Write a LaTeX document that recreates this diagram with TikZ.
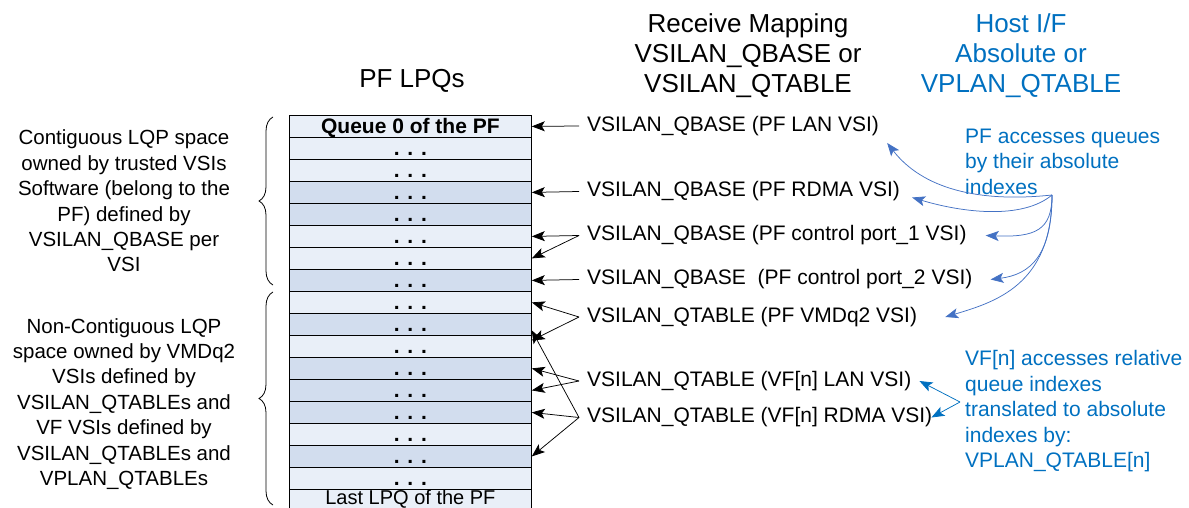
\documentclass[tikz,border=0pt]{standalone}
\usepackage{fontspec}
\setmainfont{Liberation Sans}
\usepackage{tikz}
\usetikzlibrary{calc,arrows.meta,positioning,decorations.pathreplacing}
\definecolor{lpqLight}{RGB}{233,239,248}
\definecolor{lpqDark}{RGB}{210,221,238}
\definecolor{hostBlue}{RGB}{0,112,192}
\definecolor{accessBlue}{RGB}{68,114,196}
\newcommand{\bigtxt}{\fontsize{26}{30}\selectfont}
\newcommand{\midtxt}{\fontsize{21}{25.5}\selectfont}
\newcommand{\sidetxt}{\fontsize{20.5}{25.4}\selectfont}

\begin{document}
\begin{tikzpicture}[x=1pt,y=-1pt,
    lpqrow/.style={draw=black, line width=0.8pt, anchor=north west, inner sep=0pt,
        minimum width=242pt, minimum height=22pt, text height=15pt, text depth=0pt,
        font=\midtxt\bfseries},
    maplabel/.style={anchor=west, inner xsep=8pt, inner ysep=2pt, font=\midtxt},
    maparrow/.style={-{Stealth[length=13pt,width=10pt,inset=3pt]}, line width=0.75pt},
    pfcurve/.style={accessBlue, line width=0.75pt, -{Stealth[length=13pt,width=10pt,inset=3pt]}},
    vfline/.style={hostBlue, line width=0.75pt, -{Stealth[length=13pt,width=10pt,inset=3pt]}},
    bluenote/.style={anchor=north west, align=left, inner sep=0pt, text=hostBlue, font=\midtxt},
    sidenote/.style={align=center, font=\sidetxt},
    sidebrace/.style={decorate, decoration={brace, amplitude=14pt}, line width=0.8pt}
]
    \useasboundingbox (0,0) rectangle (1189,508);

    \node[font=\bigtxt, anchor=base] (lpqtitle) at (412,88) {PF LPQs};
    \node[font=\bigtxt, align=center, anchor=north, inner sep=0pt] (maptitle) at (748,13)
        {Receive Mapping\\VSILAN\_QBASE or\\VSILAN\_QTABLE};
    \node[font=\bigtxt, align=center, anchor=north, inner sep=0pt, text=hostBlue] (hosttitle) at (1021,13)
        {Host I/F\\Absolute or\\VPLAN\_QTABLE};

    \node[lpqrow, fill=lpqLight] (r0) at (289,115) {Queue 0 of the PF};
    \foreach \i/\shade in {1/lpqLight,2/lpqLight,3/lpqDark,4/lpqDark,5/lpqLight,6/lpqLight,
                           7/lpqDark,8/lpqLight,9/lpqDark,10/lpqLight,11/lpqDark,12/lpqDark,
                           13/lpqDark,14/lpqLight,15/lpqDark,16/lpqLight}
        \node[lpqrow, fill=\shade] (r\i) at (289,{115+22*\i}) {. . .};
    \node[lpqrow, fill=lpqLight, text height=13pt, text depth=5pt, font=\fontsize{20}{24}\selectfont]
        (r17) at (289,{115+22*17}) {Last LPQ of the PF};

    \node[sidenote] (pfside) at (124,201) {Contiguous LQP space\\owned by trusted VSIs\\Software (belong to the\\PF) defined by\\VSILAN\_QBASE per\\VSI};
    \node[sidenote] (vfside) at (124,404) {Non-Contiguous LQP\\space owned by VMDq2\\VSIs defined by\\VSILAN\_QTABLEs and\\VF VSIs defined by\\VSILAN\_QTABLEs and\\VPLAN\_QTABLEs};
    \draw[sidebrace] (273,285) -- (273,117);
    \draw[sidebrace] (273,505) -- (273,292);

    \node[maplabel] (m1) at (579,126) {VSILAN\_QBASE (PF LAN VSI)};
    \node[maplabel] (m2) at (579,191.5) {VSILAN\_QBASE (PF RDMA VSI)};
    \node[maplabel] (m3) at (579,235.5) {VSILAN\_QBASE (PF control port\_1 VSI)};
    \node[maplabel] (m4) at (579,279.5) {VSILAN\_QBASE~ (PF control port\_2 VSI)};
    \node[maplabel] (m5) at (579,317) {VSILAN\_QTABLE (PF VMDq2 VSI)};
    \node[maplabel] (m6) at (579,381) {VSILAN\_QTABLE (VF[n] LAN VSI)};
    \node[maplabel] (m7) at (579,417.5) {VSILAN\_QTABLE (VF[n] RDMA VSI)};

    \draw[maparrow] (m1.west) -- (r0.east);
    \draw[maparrow] (m2.west) -- (r3.east);
    \draw[maparrow] (m3.west) -- (r5.east);
    \draw[maparrow] (m3.west) -- (r6.east);
    \draw[maparrow] (m4.west) -- (r7.east);
    \draw[maparrow] (m5.west) -- (r8.east);
    \draw[maparrow] (m5.west) -- ([yshift=6pt]r10.east);
    \draw[maparrow] (m6.west) -- (r11.east);
    \draw[maparrow] (m6.west) -- (r12.east);
    \draw[maparrow] (m7.west) -- ([yshift=-6pt]r9.east);
    \draw[maparrow] (m7.west) -- (r13.east);
    \draw[maparrow] (m7.west) -- (r15.east);

    \node[bluenote] (pfnote) at (965,128.5) {PF accesses queues\\by their absolute\\indexes};
    \node[bluenote] (vfnote) at (965,350.5) {VF[n] accesses relative\\queue indexes\\translated to absolute\\indexes by:\\VPLAN\_QTABLE[n]};
    \coordinate (pfhub) at (1052,195);
    \coordinate (vfhub) at (960,402);

    \draw[pfcurve] (pfhub) .. controls +(-75,8) and +(35,45) .. ([yshift=-5pt]m1.south east);
    \draw[pfcurve] (pfhub) .. controls +(-30,25) and +(50,15) .. ([xshift=4pt,yshift=-6pt]m2.east);
    \draw[pfcurve] (pfhub) .. controls +(0,35) and +(50,2) .. ([xshift=11pt]m3.east);
    \draw[pfcurve] (pfhub) .. controls +(0,60) and +(40,-5) .. ([xshift=10pt]m4.east);
    \draw[pfcurve] (pfhub) .. controls +(0,90) and +(50,-15) .. ([xshift=20pt]m5.east);

    \draw[vfline] (vfhub) -- (m6.east);
    \draw[vfline] (vfhub) -- ([xshift=-9pt]m7.east);
\end{tikzpicture}
\end{document}
